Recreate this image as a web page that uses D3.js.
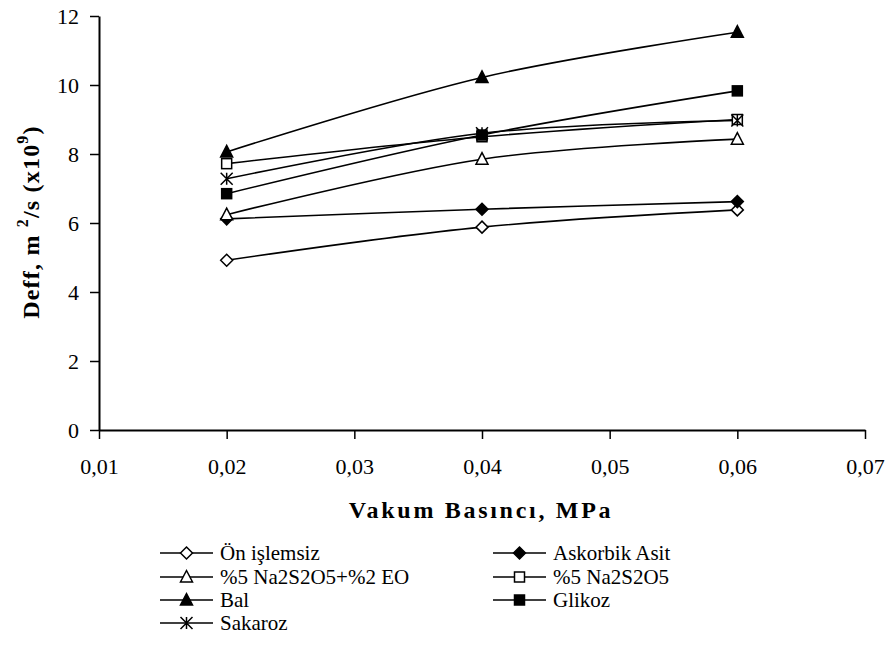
<!DOCTYPE html>
<html>
<head>
<meta charset="utf-8">
<script src="https://cdn.jsdelivr.net/npm/d3@7"></script>
</head>
<body style="margin:0">
<script>
// ---- data ----
const pressures = [0.02, 0.04, 0.06];
const seriesNames = ["Ön işlemsiz", "Askorbik Asit", "%5 Na2S2O5+%2 EO", "%5 Na2S2O5", "Bal", "Glikoz", "Sakaroz"];
const onIslemsiz   = [4.92, 5.88, 6.38];
const askorbikAsit = [6.12, 6.40, 6.62];
const na2s2o5EO    = [6.24, 7.85, 8.43];
const na2s2o5      = [7.72, 8.50, 9.00];
const bal          = [8.06, 10.22, 11.53];
const glikoz       = [6.85, 8.55, 9.83];
const sakaroz      = [7.28, 8.60, 8.97];
const xTicks = [0.01, 0.02, 0.03, 0.04, 0.05, 0.06, 0.07];
const yTicks = [0, 2, 4, 6, 8, 10, 12];
const markerTypes = ["diamondOpen", "diamondFilled", "triangleOpen", "squareOpen", "triangleFilled", "squareFilled", "asterisk"];

const seriesValues = [onIslemsiz, askorbikAsit, na2s2o5EO, na2s2o5, bal, glikoz, sakaroz];
const series = seriesNames.map((name, i) => ({
  name, marker: markerTypes[i],
  points: pressures.map((p, j) => ({ x: p, y: seriesValues[i][j] }))
}));

const W = 888, H = 653;
const svg = d3.select("body").append("svg").attr("width", W).attr("height", H);

function serif(sel) {
  return sel.style("font-family", '"Liberation Serif"').attr("font-family", "Liberation Serif");
}

const x = d3.scaleLinear().domain([0.01, 0.07]).range([99, 865]);
const y = d3.scaleLinear().domain([0, 12]).range([430, 16]);

const fmt = d => d3.format(".2f")(d).replace(".", ",");

// axes
const xAxis = svg.append("g").attr("transform", `translate(0,${y(0)})`)
  .call(d3.axisBottom(x).tickValues(xTicks).tickFormat(fmt).tickSizeOuter(0).tickSizeInner(9).tickPadding(19));
const yAxis = svg.append("g").attr("transform", `translate(${x(0.01)},0)`)
  .call(d3.axisLeft(y).tickValues(yTicks).tickFormat(d3.format("d")).tickSizeOuter(0).tickSizeInner(9).tickPadding(11));
[xAxis, yAxis].forEach(a => {
  serif(a).attr("font-size", 22);
  a.select(".domain").attr("stroke", "#000").attr("stroke-width", 2);
  a.selectAll(".tick line").attr("stroke", "#000").attr("stroke-width", 1.5);
  serif(a.selectAll(".tick text")).attr("fill", "#000").style("font-size", "22px");
});

// marker drawing
function drawMarker(g, type, cx, cy) {
  const s = 6;
  if (type === "diamondOpen" || type === "diamondFilled") {
    g.append("path")
      .attr("d", `M${cx},${cy - s}L${cx + s},${cy}L${cx},${cy + s}L${cx - s},${cy}Z`)
      .attr("fill", type === "diamondFilled" ? "#000" : "#fff").attr("stroke", "#000").attr("stroke-width", 1.5);
  } else if (type === "squareOpen" || type === "squareFilled") {
    g.append("rect").attr("x", cx - 5).attr("y", cy - 5).attr("width", 10).attr("height", 10)
      .attr("fill", type === "squareFilled" ? "#000" : "#fff").attr("stroke", "#000").attr("stroke-width", 1.5);
  } else if (type === "triangleOpen" || type === "triangleFilled") {
    g.append("path")
      .attr("d", `M${cx},${cy - 6.5}L${cx + 6},${cy + 5}L${cx - 6},${cy + 5}Z`)
      .attr("fill", type === "triangleFilled" ? "#000" : "#fff").attr("stroke", "#000").attr("stroke-width", 1.5);
  } else if (type === "asterisk") {
    const r = 6;
    g.append("path")
      .attr("d", `M${cx - r},${cy - r}L${cx + r},${cy + r}M${cx - r},${cy + r}L${cx + r},${cy - r}M${cx},${cy - r}L${cx},${cy + r}`)
      .attr("stroke", "#000").attr("stroke-width", 1.5).attr("fill", "none");
  }
}

const line = d3.line().x(d => x(d.x)).y(d => y(d.y)).curve(d3.curveCatmullRom.alpha(0));

const plot = svg.append("g");
series.forEach(s => {
  plot.append("path").datum(s.points).attr("d", line)
    .attr("fill", "none").attr("stroke", "#000").attr("stroke-width", 1.6);
});
series.forEach(s => {
  const g = plot.append("g");
  s.points.forEach(p => drawMarker(g, s.marker, x(p.x), y(p.y)));
});

// y axis title
const yt = serif(svg.append("text"))
  .attr("transform", `translate(39,222) rotate(-90)`)
  .attr("text-anchor", "middle")
  .style("font-size", "24px").style("font-weight", "bold").style("letter-spacing", "1.2px").attr("fill", "#000");
yt.append("tspan").text("Deff, m ");
yt.append("tspan").text("2").attr("dy", -11).style("font-size", "16px");
yt.append("tspan").text("/s (x10").attr("dy", 11);
yt.append("tspan").text("9").attr("dy", -11).style("font-size", "16px");
yt.append("tspan").text(")").attr("dy", 11);

// x axis title
serif(svg.append("text")).attr("x", 481).attr("y", 518).attr("text-anchor", "middle")
  .style("font-size", "24px").style("font-weight", "bold").style("letter-spacing", "2.7px")
  .attr("fill", "#000").text("Vakum Basıncı, MPa");

// legend
const legendPos = [
  [160, 553], [493, 553],
  [160, 577], [493, 577],
  [160, 600], [493, 600],
  [160, 623]
];
series.forEach((s, i) => {
  const [lx, ly] = legendPos[i];
  const g = svg.append("g");
  g.append("line").attr("x1", lx).attr("x2", lx + 53).attr("y1", ly).attr("y2", ly)
    .attr("stroke", "#000").attr("stroke-width", 1.6);
  drawMarker(g, s.marker, lx + 26.5, ly);
  serif(g.append("text")).attr("x", lx + 60).attr("y", ly + 7)
    .style("font-size", "21px").attr("fill", "#000").text(s.name);
});
</script>
</body>
</html>
